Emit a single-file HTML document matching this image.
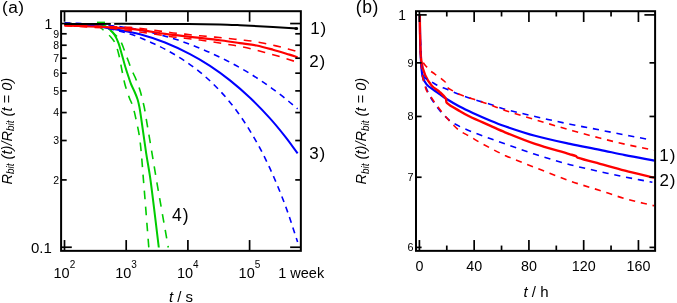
<!DOCTYPE html>
<html><head><meta charset="utf-8"><style>
html,body{margin:0;padding:0;background:#fff;width:677px;height:303px;overflow:hidden;}
svg{display:block;will-change:transform;}
text{font-family:"Liberation Sans", sans-serif;}
</style></head><body>
<svg width="677" height="303" viewBox="0 0 677 303" font-family='"Liberation Sans", sans-serif' fill="#000"><path d="M64.50,24.20 C73.83,24.23 83.21,23.93 92.50,24.30 C94.21,24.37 95.98,24.79 97.50,25.50 C98.98,26.19 100.21,27.44 101.50,28.50 C102.98,29.71 104.39,31.01 105.80,32.30 C107.49,33.84 109.31,35.28 110.80,37.00 C112.45,38.91 114.17,40.92 115.20,43.20 C116.87,46.92 117.90,51.01 118.90,55.00 C120.13,59.94 120.88,65.00 121.90,70.00 C122.82,74.50 123.62,79.04 124.70,83.50 C125.32,86.04 126.19,88.51 127.00,91.00 C127.82,93.51 128.65,96.03 129.60,98.50 C130.45,100.70 131.69,102.76 132.40,105.00 C133.69,109.06 134.70,113.23 135.60,117.40 C137.20,124.83 138.96,132.26 139.90,139.80 C141.63,153.73 142.44,167.79 143.60,181.80 C145.41,203.69 147.07,225.60 148.80,247.50" fill="none" stroke="#00cc00" stroke-width="1.60" stroke-dasharray="8.6,7.5" stroke-linecap="butt" stroke-linejoin="round"/>
<path d="M64.50,24.20 C77.00,24.30 89.95,22.96 102.00,24.50 C105.12,24.90 107.46,28.01 110.00,30.00 C112.13,31.67 114.13,33.54 116.00,35.50 C117.63,37.21 119.29,38.99 120.50,41.00 C121.79,43.16 122.57,45.64 123.50,48.00 C124.41,50.30 125.14,52.68 126.00,55.00 C126.87,57.34 127.81,59.66 128.70,62.00 C129.71,64.66 130.60,67.38 131.70,70.00 C132.70,72.38 133.97,74.64 135.00,77.00 C136.07,79.47 137.07,81.97 138.00,84.50 C138.91,86.97 139.77,89.47 140.50,92.00 C141.27,94.64 141.85,97.33 142.50,100.00 C143.11,102.50 143.80,104.98 144.30,107.50 C144.96,110.81 145.44,114.17 146.00,117.50 C147.67,127.40 149.34,137.30 151.00,147.20 C153.07,159.57 155.07,171.94 157.20,184.30 C160.84,205.38 164.60,226.43 168.30,247.50" fill="none" stroke="#00cc00" stroke-width="1.60" stroke-dasharray="8.6,7.5" stroke-linecap="butt" stroke-linejoin="round"/>
<path d="M64.50,24.20 C75.83,24.23 87.23,23.80 98.50,24.30 C100.66,24.40 102.85,25.10 104.80,26.00 C106.62,26.84 108.31,28.13 109.80,29.50 C111.58,31.13 113.29,32.97 114.60,35.00 C116.16,37.41 117.40,40.10 118.40,42.80 C119.87,46.76 120.83,50.92 122.00,55.00 C123.10,58.82 124.06,62.69 125.20,66.50 C126.23,69.95 127.36,73.38 128.50,76.80 C129.36,79.38 130.17,81.98 131.20,84.50 C132.31,87.22 133.75,89.80 134.90,92.50 C135.88,94.80 136.86,97.12 137.60,99.50 C138.36,101.95 138.91,104.48 139.40,107.00 C140.04,110.31 140.51,113.66 141.00,117.00 C142.71,128.69 144.24,140.41 146.00,152.10 C147.40,161.41 149.25,170.66 150.50,180.00 C153.51,202.46 156.03,225.00 158.80,247.50" fill="none" stroke="#00cc00" stroke-width="2.00" stroke-linecap="butt" stroke-linejoin="round"/>
<path d="M64.50,22.80 C76.33,23.37 88.20,23.55 100.00,24.50 C110.03,25.31 120.03,26.70 130.00,28.10 C134.03,28.67 138.01,29.57 142.00,30.40 C146.01,31.24 150.02,32.11 154.00,33.10 C158.02,34.11 162.02,35.24 166.00,36.40 C170.02,37.57 174.03,38.78 178.00,40.10 C182.03,41.44 186.02,42.91 190.00,44.40 C194.02,45.91 198.04,47.45 202.00,49.10 C206.04,50.78 210.03,52.56 214.00,54.40 C218.03,56.26 222.04,58.19 226.00,60.20 C230.04,62.25 234.04,64.39 238.00,66.60 C242.04,68.86 246.06,71.17 250.00,73.60 C254.06,76.10 258.05,78.73 262.00,81.40 C266.05,84.13 270.07,86.90 274.00,89.80 C278.07,92.80 282.07,95.92 286.00,99.10 C289.93,102.28 293.73,105.63 297.60,108.90" fill="none" stroke="#0000ff" stroke-width="1.60" stroke-dasharray="6,5" stroke-linecap="butt" stroke-linejoin="round"/>
<path d="M64.50,24.50 C76.33,25.33 88.29,25.32 100.00,27.00 C110.13,28.45 120.12,31.20 130.00,33.90 C134.12,35.03 138.03,36.88 142.00,38.50 C146.03,40.15 150.05,41.86 154.00,43.70 C158.05,45.59 162.06,47.58 166.00,49.70 C170.06,51.88 174.08,54.17 178.00,56.60 C182.08,59.13 186.09,61.80 190.00,64.60 C194.09,67.53 198.14,70.57 202.00,73.80 C206.14,77.27 210.16,80.91 214.00,84.70 C218.16,88.81 222.20,93.06 226.00,97.50 C230.20,102.40 234.23,107.47 238.00,112.70 C242.23,118.57 246.24,124.62 250.00,130.80 C254.24,137.76 258.28,144.86 262.00,152.10 C266.28,160.42 270.27,168.91 274.00,177.50 C278.27,187.35 282.31,197.32 286.00,207.40 C290.18,218.82 293.73,230.47 297.60,242.00" fill="none" stroke="#0000ff" stroke-width="1.60" stroke-dasharray="6,5" stroke-linecap="butt" stroke-linejoin="round"/>
<path d="M64.50,24.20 C73.00,24.63 81.54,24.66 90.00,25.50 C98.37,26.33 106.70,27.76 115.00,29.20 C123.37,30.66 131.80,32.02 140.00,34.20 C148.47,36.45 156.86,39.26 165.00,42.50 C173.52,45.89 181.86,49.87 190.00,54.10 C196.86,57.67 203.54,61.65 210.00,65.90 C216.87,70.42 223.57,75.27 230.00,80.40 C236.90,85.90 243.60,91.72 250.00,97.80 C256.93,104.39 263.58,111.32 270.00,118.40 C275.24,124.18 280.16,130.28 285.00,136.40 C289.36,141.91 293.40,147.67 297.60,153.30" fill="none" stroke="#0000ff" stroke-width="2.00" stroke-linecap="butt" stroke-linejoin="round"/>
<path d="M64.50,25.10 C73.00,25.38 81.50,25.66 90.00,25.94 C96.67,26.16 103.33,26.36 110.00,26.60 C116.67,26.84 123.35,26.87 130.00,27.38 C136.69,27.90 143.34,28.83 150.00,29.68 C156.68,30.53 163.32,31.62 170.00,32.47 C174.99,33.11 180.00,33.58 185.00,34.14 C190.00,34.70 194.99,35.33 200.00,35.82 C204.99,36.31 210.00,36.64 215.00,37.10 C219.34,37.49 223.67,37.90 228.00,38.37 C232.00,38.80 236.00,39.34 240.00,39.80 C244.00,40.26 248.02,40.56 252.00,41.13 C256.02,41.70 260.02,42.44 264.00,43.23 C268.02,44.02 272.01,44.93 276.00,45.87 C280.01,46.82 284.01,47.88 288.00,48.92 C291.21,49.75 294.40,50.64 297.60,51.50" fill="none" stroke="#ff0000" stroke-width="1.60" stroke-dasharray="7.8,7.2" stroke-linecap="butt" stroke-linejoin="round"/>
<path d="M64.50,25.70 C73.00,26.17 81.50,26.63 90.00,27.10 C96.67,27.47 103.36,27.59 110.00,28.20 C116.69,28.82 123.33,29.92 130.00,30.78 C136.67,31.65 143.34,32.43 150.00,33.38 C156.68,34.33 163.32,35.54 170.00,36.47 C174.99,37.16 180.00,37.65 185.00,38.24 C190.00,38.83 195.01,39.35 200.00,40.02 C205.01,40.69 210.00,41.49 215.00,42.26 C219.34,42.93 223.67,43.65 228.00,44.37 C232.00,45.03 236.02,45.62 240.00,46.40 C244.02,47.18 248.02,48.08 252.00,49.05 C256.02,50.02 260.00,51.16 264.00,52.24 C268.00,53.32 272.02,54.37 276.00,55.52 C280.02,56.69 284.01,57.95 288.00,59.21 C291.21,60.21 294.40,61.27 297.60,62.30" fill="none" stroke="#ff0000" stroke-width="1.60" stroke-dasharray="7.8,7.2" stroke-linecap="butt" stroke-linejoin="round"/>
<path d="M64.50,25.40 C79.67,26.07 94.85,26.49 110.00,27.40 C119.92,27.99 129.84,28.73 139.70,29.90 C148.17,30.90 156.54,32.76 165.00,33.90 C174.87,35.23 184.80,36.15 194.70,37.30 C203.80,38.35 212.91,39.34 222.00,40.50 C228.01,41.27 234.00,42.23 240.00,43.10 C245.50,43.90 251.06,44.41 256.50,45.50 C262.06,46.61 267.53,48.19 273.00,49.70 C278.50,51.22 283.94,52.94 289.40,54.60 C292.14,55.44 294.87,56.33 297.60,57.20" fill="none" stroke="#ff0000" stroke-width="2.20" stroke-linecap="butt" stroke-linejoin="round"/>
<path d="M64.50,23.90 C93.00,23.90 121.50,23.81 150.00,23.90 C173.33,23.98 196.67,24.06 220.00,24.40 C226.67,24.50 233.34,24.87 240.00,25.20 C251.00,25.74 262.00,26.35 273.00,27.00 C281.20,27.48 289.40,28.07 297.60,28.60" fill="none" stroke="#000000" stroke-width="2.00" stroke-linecap="butt" stroke-linejoin="round"/>
<line x1="110.80" y1="23.90" x2="114.20" y2="23.90" stroke="#fff" stroke-width="2.20"/>
<line x1="97.00" y1="22.30" x2="105.00" y2="22.30" stroke="#00cc00" stroke-width="1.40"/>
<ellipse cx="296.2" cy="28.6" rx="1.9" ry="1.5" fill="#000"/>
<rect x="61.10" y="11.20" width="239.75" height="239.65" fill="none" stroke="#000" stroke-width="2"/>
<line x1="64.50" y1="250.85" x2="64.50" y2="240.05" stroke="#000" stroke-width="1.70"/>
<line x1="64.50" y1="11.20" x2="64.50" y2="21.70" stroke="#000" stroke-width="1.70"/>
<line x1="126.20" y1="250.85" x2="126.20" y2="240.05" stroke="#000" stroke-width="1.70"/>
<line x1="126.20" y1="11.20" x2="126.20" y2="21.70" stroke="#000" stroke-width="1.70"/>
<line x1="187.90" y1="250.85" x2="187.90" y2="240.05" stroke="#000" stroke-width="1.70"/>
<line x1="187.90" y1="11.20" x2="187.90" y2="21.70" stroke="#000" stroke-width="1.70"/>
<line x1="249.60" y1="250.85" x2="249.60" y2="240.05" stroke="#000" stroke-width="1.70"/>
<line x1="249.60" y1="11.20" x2="249.60" y2="21.70" stroke="#000" stroke-width="1.70"/>
<line x1="61.10" y1="23.55" x2="71.80" y2="23.55" stroke="#000" stroke-width="1.70"/>
<line x1="300.85" y1="23.55" x2="290.15" y2="23.55" stroke="#000" stroke-width="1.70"/>
<line x1="61.10" y1="247.25" x2="71.80" y2="247.25" stroke="#000" stroke-width="1.70"/>
<line x1="300.85" y1="247.25" x2="290.15" y2="247.25" stroke="#000" stroke-width="1.70"/>
<line x1="61.10" y1="179.91" x2="66.70" y2="179.91" stroke="#000" stroke-width="1.70"/>
<line x1="300.85" y1="179.91" x2="295.25" y2="179.91" stroke="#000" stroke-width="1.70"/>
<line x1="61.10" y1="140.52" x2="66.70" y2="140.52" stroke="#000" stroke-width="1.70"/>
<line x1="300.85" y1="140.52" x2="295.25" y2="140.52" stroke="#000" stroke-width="1.70"/>
<line x1="61.10" y1="112.57" x2="66.70" y2="112.57" stroke="#000" stroke-width="1.70"/>
<line x1="300.85" y1="112.57" x2="295.25" y2="112.57" stroke="#000" stroke-width="1.70"/>
<line x1="61.10" y1="90.89" x2="66.70" y2="90.89" stroke="#000" stroke-width="1.70"/>
<line x1="300.85" y1="90.89" x2="295.25" y2="90.89" stroke="#000" stroke-width="1.70"/>
<line x1="61.10" y1="73.18" x2="66.70" y2="73.18" stroke="#000" stroke-width="1.70"/>
<line x1="300.85" y1="73.18" x2="295.25" y2="73.18" stroke="#000" stroke-width="1.70"/>
<line x1="61.10" y1="58.20" x2="66.70" y2="58.20" stroke="#000" stroke-width="1.70"/>
<line x1="300.85" y1="58.20" x2="295.25" y2="58.20" stroke="#000" stroke-width="1.70"/>
<line x1="61.10" y1="45.23" x2="66.70" y2="45.23" stroke="#000" stroke-width="1.70"/>
<line x1="300.85" y1="45.23" x2="295.25" y2="45.23" stroke="#000" stroke-width="1.70"/>
<line x1="61.10" y1="33.79" x2="66.70" y2="33.79" stroke="#000" stroke-width="1.70"/>
<line x1="300.85" y1="33.79" x2="295.25" y2="33.79" stroke="#000" stroke-width="1.70"/>
<text x="52.20" y="29.00" font-size="14.00" text-anchor="end"  >1</text>
<text x="59.00" y="183.71" font-size="10.50" text-anchor="end"  >2</text>
<text x="59.00" y="144.32" font-size="10.50" text-anchor="end"  >3</text>
<text x="59.00" y="116.37" font-size="10.50" text-anchor="end"  >4</text>
<text x="59.00" y="94.69" font-size="10.50" text-anchor="end"  >5</text>
<text x="59.00" y="76.98" font-size="10.50" text-anchor="end"  >6</text>
<text x="59.00" y="62.00" font-size="10.50" text-anchor="end"  >7</text>
<text x="59.00" y="49.03" font-size="10.50" text-anchor="end"  >8</text>
<text x="59.00" y="37.59" font-size="10.50" text-anchor="end"  >9</text>
<text x="51.80" y="252.80" font-size="15.00" text-anchor="end"  >0.1</text>
<text x="53.50" y="278.30" font-size="14.50" text-anchor="start"  >10<tspan font-size="10" dy="-10.0">2</tspan></text>
<text x="115.20" y="278.30" font-size="14.50" text-anchor="start"  >10<tspan font-size="10" dy="-10.0">3</tspan></text>
<text x="176.90" y="278.30" font-size="14.50" text-anchor="start"  >10<tspan font-size="10" dy="-10.0">4</tspan></text>
<text x="238.60" y="278.30" font-size="14.50" text-anchor="start"  >10<tspan font-size="10" dy="-10.0">5</tspan></text>
<text x="301.20" y="278.30" font-size="14.50" text-anchor="middle"  >1 week</text>
<text x="181.00" y="301.60" font-size="15.00" text-anchor="middle"  ><tspan font-style="italic">t</tspan> / s</text>
<text x="2.00" y="13.00" font-size="17.30" text-anchor="start"  letter-spacing="0.5">(a)</text>
<text x="310.20" y="34.30" font-size="17.00" text-anchor="start"  letter-spacing="0.9">1)</text>
<text x="309.20" y="66.70" font-size="17.00" text-anchor="start"  letter-spacing="0.9">2)</text>
<text x="309.20" y="158.50" font-size="17.00" text-anchor="start"  letter-spacing="0.9">3)</text>
<text x="172.00" y="220.80" font-size="17.50" text-anchor="start"  letter-spacing="0.9">4)</text>
<text transform="translate(11.5,131.2) rotate(-90)" font-size="14.6" text-anchor="middle" font-style="italic">R<tspan font-size="10" dy="2.8">bit</tspan><tspan dy="-2.8"> (t)/R</tspan><tspan font-size="10" dy="2.8">bit</tspan><tspan dy="-2.8"> (t = 0)</tspan></text>
<path d="M419.80,15.00 C419.90,21.67 419.94,28.33 420.10,35.00 C420.28,42.67 420.34,50.35 420.80,58.00 C421.17,64.18 421.29,70.54 422.60,76.50 C423.22,79.34 424.79,82.15 426.60,84.40 C428.33,86.55 430.93,88.02 433.20,89.70 C435.40,91.32 437.76,92.73 440.00,94.30 C441.96,95.67 443.78,97.24 445.80,98.50 C450.28,101.30 454.83,104.02 459.50,106.50 C464.23,109.02 469.12,111.26 474.00,113.50 C479.29,115.93 484.62,118.28 490.00,120.50 C494.95,122.55 499.93,124.58 505.00,126.30 C514.93,129.68 524.88,133.06 535.00,135.80 C546.55,138.93 558.30,141.38 570.00,143.90 C579.96,146.05 590.01,147.77 600.00,149.80 C608.35,151.50 616.64,153.44 625.00,155.10 C634.81,157.04 644.67,158.77 654.50,160.60" fill="none" stroke="#0000ff" stroke-width="2.20" stroke-linecap="butt" stroke-linejoin="round"/>
<path d="M419.80,15.00 C419.90,21.67 419.88,28.34 420.10,35.00 C420.38,43.54 420.23,52.17 421.30,60.60 C421.93,65.57 423.28,70.60 425.20,75.20 C426.78,78.97 429.13,82.62 431.80,85.70 C434.06,88.32 437.42,89.94 440.00,92.30 C442.08,94.20 444.31,96.20 445.80,98.50 C446.58,99.70 445.76,101.87 446.80,102.80 C450.49,106.10 455.53,108.52 460.00,111.20 C463.13,113.08 466.31,114.92 469.60,116.50 C476.31,119.72 483.20,122.57 490.00,125.60 C495.00,127.83 499.93,130.24 505.00,132.30 C514.93,136.34 524.85,140.47 535.00,143.90 C546.52,147.80 558.34,150.80 570.00,154.30 C572.01,154.90 574.11,155.37 576.00,156.20 C576.61,156.47 576.85,157.40 577.50,157.60 C584.85,159.93 592.50,161.75 600.00,163.80 C608.33,166.08 616.63,168.47 625.00,170.60 C634.80,173.10 644.67,175.33 654.50,177.70" fill="none" stroke="#ff0000" stroke-width="2.40" stroke-linecap="butt" stroke-linejoin="round"/>
<path d="M419.80,15.00 C419.90,21.67 419.92,28.34 420.10,35.00 C420.32,43.34 420.55,51.68 421.00,60.00 C421.18,63.34 421.42,66.71 422.00,70.00 C422.42,72.38 422.81,75.02 424.00,77.00 C424.81,78.36 426.60,79.10 428.00,80.00 C429.20,80.77 430.56,81.29 431.80,82.00 C433.16,82.79 434.44,83.71 435.80,84.50 C437.08,85.24 438.35,86.01 439.70,86.60 C441.65,87.45 443.73,88.00 445.70,88.80 C450.33,90.67 454.84,92.84 459.50,94.60 C464.27,96.40 469.13,97.97 474.00,99.50 C479.30,101.17 484.70,102.54 490.00,104.20 C495.03,105.77 499.92,107.81 505.00,109.20 C514.92,111.91 524.97,114.19 535.00,116.50 C546.64,119.19 558.30,121.77 570.00,124.20 C579.97,126.27 590.01,128.04 600.00,130.00 C608.34,131.64 616.66,133.38 625.00,135.00 C632.99,136.55 641.00,138.00 649.00,139.50" fill="none" stroke="#0000ff" stroke-width="1.60" stroke-dasharray="6.2,5.8" stroke-linecap="butt" stroke-linejoin="round"/>
<path d="M419.80,15.00 C419.90,21.67 419.88,28.34 420.10,35.00 C420.44,45.34 420.77,55.69 421.50,66.00 C421.81,70.36 422.04,74.82 423.20,79.00 C424.81,84.82 427.13,90.58 429.80,96.00 C431.73,99.91 434.43,103.46 437.00,107.00 C438.90,109.62 440.95,112.17 443.20,114.50 C445.62,117.01 448.18,119.47 451.00,121.50 C453.78,123.50 456.90,125.11 460.00,126.60 C464.90,128.95 469.95,131.00 475.00,133.00 C479.95,134.96 484.99,136.68 490.00,138.50 C494.99,140.31 499.99,142.14 505.00,143.90 C514.99,147.41 524.92,151.08 535.00,154.30 C546.59,158.01 558.24,161.57 570.00,164.70 C579.91,167.34 589.99,169.36 600.00,171.60 C608.32,173.46 616.64,175.31 625.00,177.00 C634.11,178.84 643.27,180.47 652.40,182.20" fill="none" stroke="#0000ff" stroke-width="1.60" stroke-dasharray="6.2,5.8" stroke-linecap="butt" stroke-linejoin="round"/>
<path d="M419.80,15.00 C419.90,21.67 419.91,28.34 420.10,35.00 C420.31,42.34 420.12,49.79 421.00,57.00 C421.26,59.13 422.44,61.14 423.50,63.00 C424.30,64.40 425.52,65.57 426.60,66.80 C427.86,68.24 429.08,69.74 430.50,71.00 C431.71,72.07 433.18,72.85 434.50,73.80 C436.34,75.12 438.19,76.43 440.00,77.80 C441.59,79.00 443.19,80.21 444.70,81.50 C445.02,81.78 445.38,82.10 445.50,82.50 C445.88,83.70 445.38,85.41 446.20,86.30 C448.08,88.35 451.05,89.78 453.60,91.30 C455.65,92.52 457.78,93.63 460.00,94.50 C464.58,96.30 469.33,97.70 474.00,99.30 C479.33,101.13 484.69,102.90 490.00,104.80 C495.02,106.60 499.93,108.73 505.00,110.40 C514.93,113.67 524.99,116.58 535.00,119.60 C546.65,123.11 558.29,126.67 570.00,130.00 C579.96,132.84 589.97,135.51 600.00,138.10 C608.30,140.24 616.63,142.32 625.00,144.20 C634.63,146.36 644.33,148.20 654.00,150.20" fill="none" stroke="#ff0000" stroke-width="1.60" stroke-dasharray="6.2,5.8" stroke-linecap="butt" stroke-linejoin="round"/>
<path d="M419.80,15.00 C419.90,21.67 419.86,28.34 420.10,35.00 C420.52,46.67 420.56,58.42 421.80,70.00 C422.49,76.42 423.75,82.99 425.90,89.00 C427.15,92.49 429.88,95.39 432.00,98.50 C434.55,102.23 437.17,105.90 439.90,109.50 C441.77,111.97 443.77,114.36 445.80,116.70 C448.40,119.69 451.01,122.69 453.80,125.50 C455.74,127.46 457.73,129.46 460.00,131.00 C463.13,133.12 466.70,134.60 470.00,136.50 C473.30,138.40 476.45,140.59 479.80,142.40 C488.11,146.89 496.41,151.49 505.00,155.40 C514.81,159.86 524.97,163.55 535.00,167.50 C546.63,172.08 558.22,176.83 570.00,181.00 C579.88,184.50 590.01,187.30 600.00,190.50 C608.34,193.17 616.58,196.22 625.00,198.60 C634.64,201.32 644.47,203.40 654.20,205.80" fill="none" stroke="#ff0000" stroke-width="1.60" stroke-dasharray="6.2,5.8" stroke-linecap="butt" stroke-linejoin="round"/>
<rect x="416.00" y="11.20" width="239.10" height="239.65" fill="none" stroke="#000" stroke-width="2"/>
<line x1="419.40" y1="250.85" x2="419.40" y2="240.05" stroke="#000" stroke-width="1.70"/>
<line x1="419.40" y1="11.20" x2="419.40" y2="22.00" stroke="#000" stroke-width="1.70"/>
<line x1="446.78" y1="250.85" x2="446.78" y2="245.55" stroke="#000" stroke-width="1.70"/>
<line x1="446.78" y1="11.20" x2="446.78" y2="16.50" stroke="#000" stroke-width="1.70"/>
<line x1="474.16" y1="250.85" x2="474.16" y2="240.05" stroke="#000" stroke-width="1.70"/>
<line x1="474.16" y1="11.20" x2="474.16" y2="22.00" stroke="#000" stroke-width="1.70"/>
<line x1="501.54" y1="250.85" x2="501.54" y2="245.55" stroke="#000" stroke-width="1.70"/>
<line x1="501.54" y1="11.20" x2="501.54" y2="16.50" stroke="#000" stroke-width="1.70"/>
<line x1="528.92" y1="250.85" x2="528.92" y2="240.05" stroke="#000" stroke-width="1.70"/>
<line x1="528.92" y1="11.20" x2="528.92" y2="22.00" stroke="#000" stroke-width="1.70"/>
<line x1="556.30" y1="250.85" x2="556.30" y2="245.55" stroke="#000" stroke-width="1.70"/>
<line x1="556.30" y1="11.20" x2="556.30" y2="16.50" stroke="#000" stroke-width="1.70"/>
<line x1="583.68" y1="250.85" x2="583.68" y2="240.05" stroke="#000" stroke-width="1.70"/>
<line x1="583.68" y1="11.20" x2="583.68" y2="22.00" stroke="#000" stroke-width="1.70"/>
<line x1="611.06" y1="250.85" x2="611.06" y2="245.55" stroke="#000" stroke-width="1.70"/>
<line x1="611.06" y1="11.20" x2="611.06" y2="16.50" stroke="#000" stroke-width="1.70"/>
<line x1="638.44" y1="250.85" x2="638.44" y2="240.05" stroke="#000" stroke-width="1.70"/>
<line x1="638.44" y1="11.20" x2="638.44" y2="22.00" stroke="#000" stroke-width="1.70"/>
<line x1="416.00" y1="14.90" x2="426.70" y2="14.90" stroke="#000" stroke-width="1.70"/>
<line x1="655.10" y1="14.90" x2="644.40" y2="14.90" stroke="#000" stroke-width="1.70"/>
<line x1="416.00" y1="62.85" x2="421.60" y2="62.85" stroke="#000" stroke-width="1.70"/>
<line x1="655.10" y1="62.85" x2="649.50" y2="62.85" stroke="#000" stroke-width="1.70"/>
<line x1="416.00" y1="116.46" x2="421.60" y2="116.46" stroke="#000" stroke-width="1.70"/>
<line x1="655.10" y1="116.46" x2="649.50" y2="116.46" stroke="#000" stroke-width="1.70"/>
<line x1="416.00" y1="177.24" x2="421.60" y2="177.24" stroke="#000" stroke-width="1.70"/>
<line x1="655.10" y1="177.24" x2="649.50" y2="177.24" stroke="#000" stroke-width="1.70"/>
<line x1="416.00" y1="247.40" x2="421.60" y2="247.40" stroke="#000" stroke-width="1.70"/>
<line x1="655.10" y1="247.40" x2="649.50" y2="247.40" stroke="#000" stroke-width="1.70"/>
<text x="406.00" y="20.30" font-size="13.80" text-anchor="end"  >1</text>
<text x="413.60" y="66.65" font-size="10.80" text-anchor="end"  >9</text>
<text x="413.60" y="120.26" font-size="10.80" text-anchor="end"  >8</text>
<text x="413.60" y="181.04" font-size="10.80" text-anchor="end"  >7</text>
<text x="413.60" y="251.20" font-size="10.80" text-anchor="end"  >6</text>
<text x="419.40" y="271.30" font-size="14.30" text-anchor="middle"  >0</text>
<text x="474.16" y="271.30" font-size="14.30" text-anchor="middle"  >40</text>
<text x="528.92" y="271.30" font-size="14.30" text-anchor="middle"  >80</text>
<text x="583.68" y="271.30" font-size="14.30" text-anchor="middle"  >120</text>
<text x="638.44" y="271.30" font-size="14.30" text-anchor="middle"  >160</text>
<text x="536.00" y="297.20" font-size="15.00" text-anchor="middle"  ><tspan font-style="italic">t</tspan> / h</text>
<text x="355.80" y="13.20" font-size="17.60" text-anchor="start"  letter-spacing="0.5">(b)</text>
<text x="659.30" y="161.00" font-size="17.00" text-anchor="start"  letter-spacing="0.9">1)</text>
<text x="659.50" y="185.60" font-size="17.00" text-anchor="start"  letter-spacing="0.9">2)</text>
<text transform="translate(366,131.2) rotate(-90)" font-size="14.6" text-anchor="middle" font-style="italic">R<tspan font-size="10" dy="2.8">bit</tspan><tspan dy="-2.8"> (t)/R</tspan><tspan font-size="10" dy="2.8">bit</tspan><tspan dy="-2.8"> (t = 0)</tspan></text></svg>
</body></html>
